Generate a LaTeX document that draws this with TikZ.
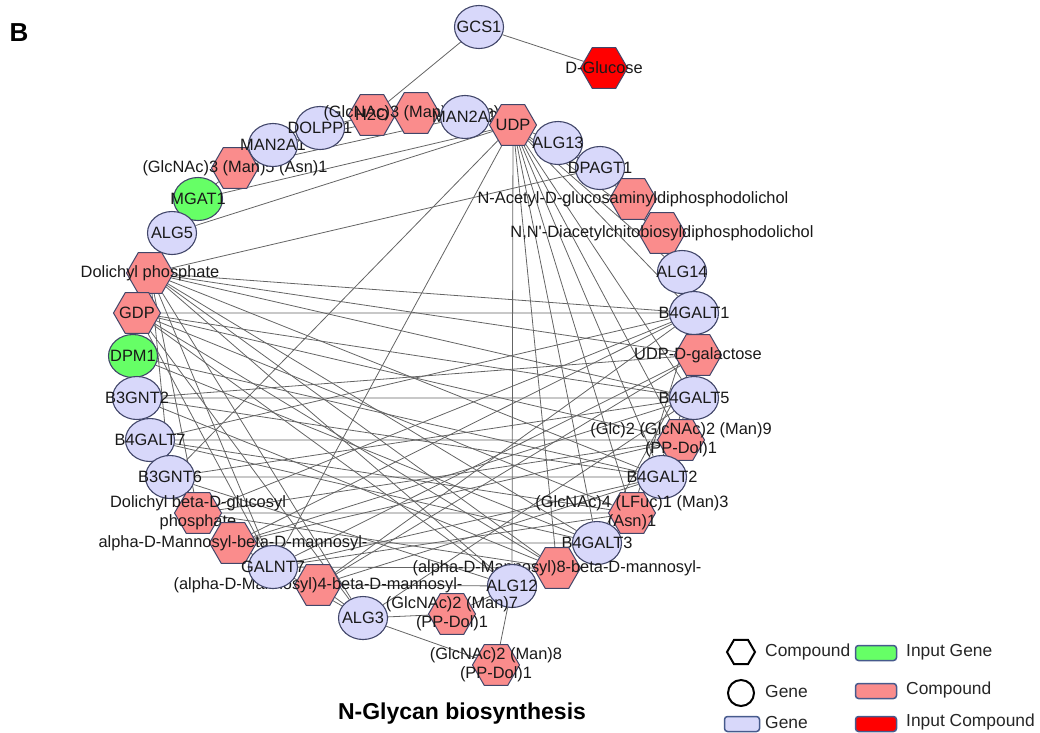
\documentclass[tikz,border=0pt]{standalone}
\usepackage{fontspec}
\setmainfont{Liberation Sans}
\definecolor{genefill}{RGB}{216,216,250}
\definecolor{ingreen}{RGB}{102,255,102}
\definecolor{cpdpink}{RGB}{250,140,140}
\definecolor{cpdred}{RGB}{255,0,0}
\definecolor{nodeline}{RGB}{65,70,105}
\definecolor{keyline}{RGB}{70,90,140}
\definecolor{linkgray}{RGB}{100,100,100}
\usetikzlibrary{shapes.geometric,backgrounds}
\tikzset{
  gene/.style={ellipse, draw=nodeline, fill=genefill, line width=1.1pt, minimum width=49pt, minimum height=43pt, inner sep=0pt},
  ingene/.style={gene, fill=ingreen},
  cpd/.style={regular polygon, regular polygon sides=6, draw=nodeline, fill=cpdpink, line width=1pt, minimum size=47pt, inner sep=0pt},
  incpd/.style={cpd, fill=cpdred},
  lbl/.style={font=\fontsize{16.4}{19}\selectfont, text=black!90, align=center, inner sep=0pt},
  link/.style={draw=linkgray, line width=0.8pt},
  keybox/.style={rounded corners=3pt, draw=keyline, line width=1.5pt, minimum width=41pt, minimum height=15pt, inner sep=0pt},
  keytxt/.style={font=\fontsize{17.4}{20}\selectfont, text=black!85, anchor=west, inner sep=0pt}
}

\begin{document}
\begin{tikzpicture}[x=1pt, y=-1pt]
  \useasboundingbox (0,0) rectangle (1040,732);

  \node[font=\bfseries\fontsize{26}{30}\selectfont] (panel) at (19,33) {B};

  % top of the ring
  \node[gene, label={[lbl]center:GCS1}] (gcs) at (479,27) {};
  \node[incpd, label={[lbl]center:D-Glucose}] (glc) at (604,68) {};
  \node[cpd, label={[lbl]center:{(GlcNAc)3 (Man)5 (Asn)1}}] (gm5) at (235,168) {};
  \node[gene, label={[lbl]center:MAN2A1}] (man1) at (273,145) {};
  \node[gene, label={[lbl]center:DOLPP1}] (dolpp) at (320,128) {};
  \node[cpd, label={[lbl]center:H2O}] (hto) at (372,115) {};
  \node[cpd, label={[lbl]center:{(GlcNAc)3 (Man)3 (Asn)1}}] (gm3) at (416,113) {};
  \node[gene, label={[lbl]center:MAN2A2}] (man2) at (465,117) {};
  \node[cpd, label={[lbl]center:UDP}] (udp) at (513,125) {};
  \node[gene, label={[lbl]center:ALG13}] (alg13) at (558,143) {};
  \node[gene, label={[lbl]center:DPAGT1}] (dpagt) at (600,168) {};

  % right side
  \node[cpd, label={[lbl]center:N-Acetyl-D-glucosaminyldiphosphodolichol}] (nacg) at (633,199) {};
  \node[cpd, label={[lbl]center:N,N\textquotesingle-Diacetylchitobiosyldiphosphodolichol}] (nnd) at (662,233) {};
  \node[gene, label={[lbl]center:ALG14}] (alg14) at (682,272) {};
  \node[gene, label={[lbl]center:B4GALT1}] (b4g1) at (694,313) {};
  \node[cpd, label={[lbl]center:UDP-D-galactose}] (udpgal) at (698,355) {};
  \node[gene, label={[lbl]center:B4GALT5}] (b4g5) at (694,398) {};
  \node[cpd, label={[lbl]center:{(Glc)2 (GlcNAc)2 (Man)9\\(PP-Dol)1}}] (g2m9) at (681,440) {};
  \node[gene, label={[lbl]center:B4GALT2}] (b4g2) at (662,477) {};
  \node[cpd, label={[lbl]center:{(GlcNAc)4 (LFuc)1 (Man)3\\(Asn)1}}] (fuc) at (632,513) {};
  \node[gene, label={[lbl]center:B4GALT3}] (b4g3) at (597,543) {};
  \node[cpd, label={[lbl]center:(alpha-D-Mannosyl)8-beta-D-mannosyl-}] (am8) at (557,568) {};
  \node[gene, label={[lbl]center:ALG12}] (alg12) at (512,586) {};
  \node[cpd, label={[lbl]center:{(GlcNAc)2 (Man)8\\(PP-Dol)1}}] (m8) at (496,665) {};
  \node[cpd, label={[lbl]center:{(GlcNAc)2 (Man)7\\(PP-Dol)1}}] (m7) at (452,614) {};

  % left side
  \node[ingene, label={[lbl]center:MGAT1}] (mgat) at (198,199) {};
  \node[gene, label={[lbl]center:ALG5}] (alg5) at (172,233) {};
  \node[cpd, label={[lbl]center:Dolichyl phosphate}] (dolp) at (150,273) {};
  \node[cpd, label={[lbl]center:GDP}] (gdp) at (137,313) {};
  \node[ingene, label={[lbl]center:DPM1}] (dpm) at (133,356) {};
  \node[gene, label={[lbl]center:B3GNT2}] (b3g2) at (137,398) {};
  \node[gene, label={[lbl]center:B4GALT7}] (b4g7) at (150,440) {};
  \node[gene, label={[lbl]center:B3GNT6}] (b3g6) at (170,477) {};
  \node[cpd, label={[lbl]center:{Dolichyl beta-D-glucosyl\\phosphate}}] (dbg) at (198,513) {};
  \node[cpd, label={[lbl]center:alpha-D-Mannosyl-beta-D-mannosyl-}] (am1) at (233,543) {};
  \node[cpd, label={[lbl]center:(alpha-D-Mannosyl)4-beta-D-mannosyl-}] (am4) at (318,585) {};
  \node[gene, label={[lbl]center:GALNT7}] (galnt) at (273,567) {};
  \node[gene, label={[lbl]center:ALG3}] (alg3) at (363,618) {};

  \begin{scope}[on background layer]
    % top
    \draw[link] (gcs) -- (glc) (gcs) -- (hto);
    \draw[link] (man1) -- (gm5) (man1) -- (gm3) (man2) -- (gm3) (man2) -- (hto) (man2) -- (gm5) (dolpp) -- (hto);
    \draw[link] (mgat) -- (gm5) (mgat) -- (udp) (alg5) -- (udp) (alg5) -- (dolp);
    % udp
    \draw[link] (udp) -- (alg13) (udp) -- (alg14) (udp) -- (nnd) (udp) -- (b4g1) (udp) -- (b4g5) (udp) -- (g2m9) (udp) -- (b4g2);
    \draw[link] (udp) -- (fuc) (udp) -- (b4g3) (udp) -- (am8) (udp) -- (alg12) (udp) -- (galnt) (udp) -- (b3g6);
    \draw[link] (dpagt) -- (dolp) (dpagt) -- (nacg) (alg13) -- (nacg) (alg14) -- (nnd);
    % dolichyl phosphate
    \draw[link] (dolp) -- (b4g1) (dolp) -- (udpgal) (dolp) -- (b4g5) (dolp) -- (b4g2) (dolp) -- (b4g3) (dolp) -- (am8);
    \draw[link] (dolp) -- (alg12) (dolp) -- (alg3) (dolp) -- (galnt) (dolp) -- (dbg) (dolp) -- (dpm) (dolp) -- (b3g6);
    % gdp, dpm
    \draw[link] (gdp) -- (b4g1) (gdp) -- (g2m9) (gdp) -- (fuc) (gdp) -- (am8) (gdp) -- (alg12) (gdp) -- (alg3);
    \draw[link] (gdp) -- (galnt) (gdp) -- (dpm) (gdp) -- (b4g5) (dpm) -- (b4g2) (dpm) -- (b4g3);
    % left genes
    \draw[link] (b3g2) -- (b4g5) (b3g2) -- (b4g2) (b3g2) -- (am8) (b3g2) -- (udpgal);
    \draw[link] (b4g7) -- (g2m9) (b4g7) -- (fuc) (b4g7) -- (b4g3) (b4g7) -- (b4g1);
    \draw[link] (b3g6) -- (b4g2) (b3g6) -- (alg12) (b3g6) -- (b4g5);
    % lower left
    \draw[link] (dbg) -- (fuc) (dbg) -- (b4g1) (dbg) -- (g2m9) (dbg) -- (am8);
    \draw[link] (am1) -- (b4g3) (am1) -- (b4g5) (am1) -- (b4g1) (am1) -- (alg3) (am1) -- (g2m9);
    \draw[link] (galnt) -- (am8) (galnt) -- (udpgal) (galnt) -- (fuc) (galnt) -- (b4g2);
    \draw[link] (am4) -- (alg12) (am4) -- (b4g1) (am4) -- (b4g2) (am4) -- (alg3) (am4) -- (udpgal);
    % bottom
    \draw[link] (alg3) -- (m7) (alg3) -- (m8) (alg3) -- (b4g5) (alg12) -- (m7) (alg12) -- (m8);
    % right side
    \draw[link] (b4g1) -- (fuc) (udpgal) -- (b4g2) (udpgal) -- (b4g3) (b4g5) -- (fuc) (b4g1) -- (udpgal) (b4g2) -- (g2m9);
  \end{scope}

  \node[font=\bfseries\fontsize{23}{27}\selectfont] (title) at (462,714) {N-Glycan biosynthesis};

  % legend
  \node[regular polygon, regular polygon sides=6, draw=black, line width=2pt, minimum size=28pt, inner sep=0pt] (keyhex) at (741,652) {};
  \node[circle, draw=black, line width=2pt, minimum size=26pt, inner sep=0pt] (keycirc) at (741,693) {};
  \node[keybox, fill=genefill, minimum width=35pt] (keygene) at (742,724) {};
  \node[keybox, fill=ingreen] (keyin) at (876,653) {};
  \node[keybox, fill=cpdpink] (keycpd) at (876,691) {};
  \node[keybox, fill=cpdred] (keyincpd) at (876,724) {};
  \node[keytxt] (tcpd) at (765,652) {Compound};
  \node[keytxt] (tgene) at (765,691) {Gene};
  \node[keytxt] (tgenefill) at (765,722) {Gene};
  \node[keytxt] (tin) at (906,652) {Input Gene};
  \node[keytxt] (tcpdfill) at (906,690) {Compound};
  \node[keytxt] (tincpd) at (906,722) {Input Compound};
\end{tikzpicture}
\end{document}
